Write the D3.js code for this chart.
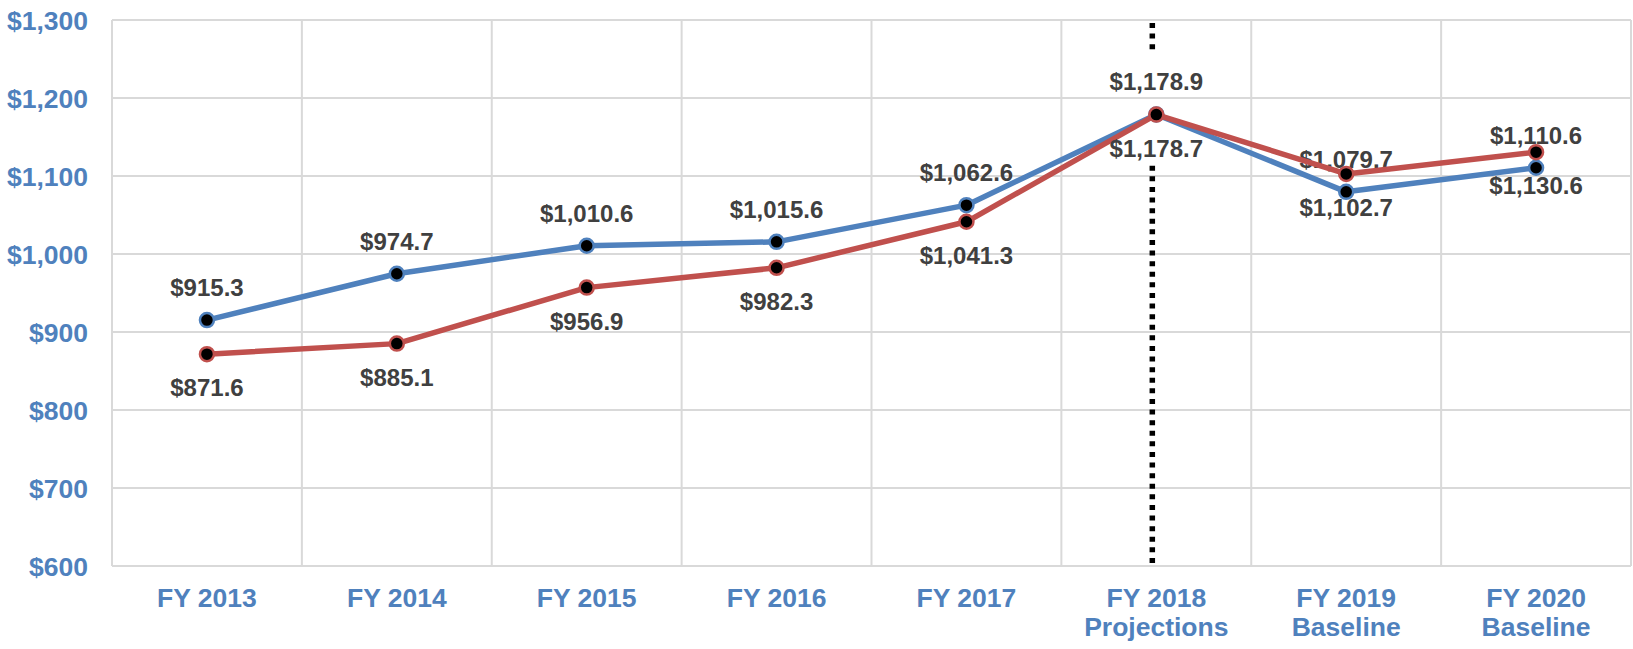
<!DOCTYPE html>
<html>
<head>
<meta charset="utf-8">
<script src="https://cdn.jsdelivr.net/npm/d3@7"></script>
<style>
	body { margin: 0; background: #fff; }
	svg { display: block; font-family: "Liberation Sans", Arial, sans-serif; }
</style>
</head>
<body>
<svg id="graph"></svg>
<script>
// chart data
const categories = ["FY 2013", "FY 2014", "FY 2015", "FY 2016", "FY 2017", "FY 2018", "FY 2019", "FY 2020"];
const subLabels = ["", "", "", "", "", "Projections", "Baseline", "Baseline"];
const blueValues = [915.3, 974.7, 1010.6, 1015.6, 1062.6, 1178.9, 1079.7, 1110.6];
const redValues = [871.6, 885.1, 956.9, 982.3, 1041.3, 1178.7, 1102.7, 1130.6];
const yTicks = [600, 700, 800, 900, 1000, 1100, 1200, 1300];
const dividerCategory = "FY 2018";
const dividerGap = [1117, 1262]; // value range where the dotted line is broken

document.addEventListener("DOMContentLoaded", function () {
	const svg = d3.select("#graph");
	const w = 1633;
	const h = 649;
	svg.attr("width", w).attr("height", h);

	const left = 112;
	const right = 1631;
	const top = 20;
	const bottom = 566;

	const blue = "#4F81BD";
	const red = "#C0504D";
	const grid = "#D9D9D9";

	const xScale = d3.scaleBand().domain(categories).range([left, right]).padding(0);
	const yScale = d3.scaleLinear().domain([600, 1300]).range([bottom, top]);
	const cx = (i) => xScale(categories[i]) + xScale.bandwidth() / 2;

	// horizontal gridlines
	svg.append("g")
		.selectAll("line")
		.data(yTicks)
		.enter()
		.append("line")
		.attr("x1", left)
		.attr("x2", right)
		.attr("y1", (d) => yScale(d))
		.attr("y2", (d) => yScale(d))
		.attr("stroke", grid)
		.attr("stroke-width", 2);

	// vertical gridlines on category edges
	const edges = categories.map((c) => xScale(c)).concat([right]);
	svg.append("g")
		.selectAll("line")
		.data(edges)
		.enter()
		.append("line")
		.attr("x1", (d) => d)
		.attr("x2", (d) => d)
		.attr("y1", top)
		.attr("y2", bottom)
		.attr("stroke", grid)
		.attr("stroke-width", 2);

	// y axis labels
	svg.append("g")
		.selectAll("text")
		.data(yTicks)
		.enter()
		.append("text")
		.attr("x", left - 24)
		.attr("y", (d) => yScale(d))
		.attr("dy", "0.36em")
		.attr("text-anchor", "end")
		.attr("font-size", 26.5)
		.attr("font-weight", "bold")
		.attr("fill", blue)
		.text((d) => "$" + d3.format(",")(d));

	// x axis labels (two lines where needed)
	const xl = svg.append("g")
		.selectAll("text")
		.data(categories)
		.enter()
		.append("text")
		.attr("text-anchor", "middle")
		.attr("font-size", 26.5)
		.attr("font-weight", "bold")
		.attr("fill", blue);
	xl.append("tspan")
		.attr("x", (d, i) => cx(i))
		.attr("y", bottom + 41)
		.text((d) => d);
	xl.append("tspan")
		.attr("x", (d, i) => cx(i))
		.attr("y", bottom + 70)
		.text((d, i) => subLabels[i]);

	// dotted divider before projections
	const dx = xScale(dividerCategory) + xScale.bandwidth() / 2 - 4;
	[[1300, dividerGap[1]], [dividerGap[0], 600]].forEach((seg) => {
		svg.append("line")
			.attr("x1", dx)
			.attr("x2", dx)
			.attr("y1", yScale(seg[0]) + 3)
			.attr("y2", yScale(seg[1]))
			.attr("stroke", "#000")
			.attr("stroke-width", 5.5)
			.attr("stroke-dasharray", "5 5.6");
	});

	// draw one series: line, markers, data labels
	function drawSeries(values, color, above) {
		const line = d3.line()
			.x((d, i) => cx(i))
			.y((d) => yScale(d));
		svg.append("path")
			.datum(values)
			.attr("d", line)
			.attr("fill", "none")
			.attr("stroke", color)
			.attr("stroke-width", 5.5)
			.attr("stroke-linejoin", "round");
		svg.append("g")
			.selectAll("circle")
			.data(values)
			.enter()
			.append("circle")
			.attr("cx", (d, i) => cx(i))
			.attr("cy", (d) => yScale(d))
			.attr("r", 7)
			.attr("fill", "#000")
			.attr("stroke", color)
			.attr("stroke-width", 2.5);
		svg.append("g")
			.selectAll("text")
			.data(values)
			.enter()
			.append("text")
			.attr("x", (d, i) => cx(i))
			.attr("y", (d) => yScale(d) + (above ? -24 : 42))
			.attr("text-anchor", "middle")
			.attr("font-size", 24)
			.attr("font-weight", "bold")
			.attr("fill", "#404040")
			.text((d) => "$" + d3.format(",.1f")(d));
	}

	drawSeries(blueValues, blue, true);
	drawSeries(redValues, red, false);
});
</script>
</body>
</html>
